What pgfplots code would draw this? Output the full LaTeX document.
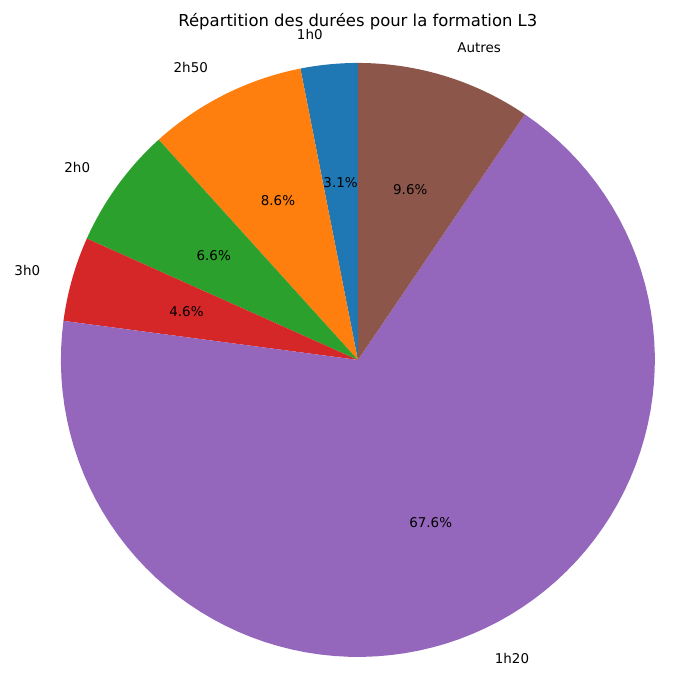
\documentclass[border=0pt]{standalone}
\usepackage{pgfplots}
\pgfplotsset{compat=1.18}
\usepackage{fontspec}
\setmainfont{DejaVu Sans}
\definecolor{c1}{HTML}{1F77B4}\definecolor{c2}{HTML}{FF7F0E}\definecolor{c3}{HTML}{2CA02C}
\definecolor{c4}{HTML}{D62728}\definecolor{c5}{HTML}{9467BD}\definecolor{c6}{HTML}{8C564B}
% slice: color, start angle, end angle, label, pct, anchor
\newcommand{\slice}[6]{%
 \addplot[fill=#1,draw=none,domain=#2:#3,samples=90] ({cos(x)},{sin(x)}) -- (axis cs:0,0) -- cycle;
 \node[anchor=#6,font=\fontsize{13.5}{16}\selectfont] at (axis cs:{1.1*cos((#2+#3)/2)},{1.1*sin((#2+#3)/2)}) {#4};
 \node[font=\fontsize{13.5}{16}\selectfont] at (axis cs:{0.6*cos((#2+#3)/2)},{0.6*sin((#2+#3)/2)}) {#5};
}
\begin{document}
\begin{tikzpicture}
\begin{axis}[x=297bp,y=297bp,scale only axis,hide axis,clip=false,
 xmin=-1.205,xmax=1.1515,ymin=-1.145,ymax=1.212]
\draw[draw=none] (rel axis cs:0,0) rectangle (rel axis cs:1,1);
\slice{c1}{90}{101.16}{1h0}{3.1\%}{east}
\slice{c2}{101.16}{132.12}{2h50}{8.6\%}{east}
\slice{c3}{132.12}{155.88}{2h0}{6.6\%}{east}
\slice{c4}{155.88}{172.44}{3h0}{4.6\%}{east}
\slice{c5}{172.44}{415.8}{1h20}{67.6\%}{west}
\slice{c6}{415.8}{450}{Autres}{9.6\%}{west}
\node[font=\fontsize{16.5}{19}\selectfont] at (axis cs:0,1.14) {Répartition des durées pour la formation L3};
\end{axis}
\end{tikzpicture}
\end{document}
